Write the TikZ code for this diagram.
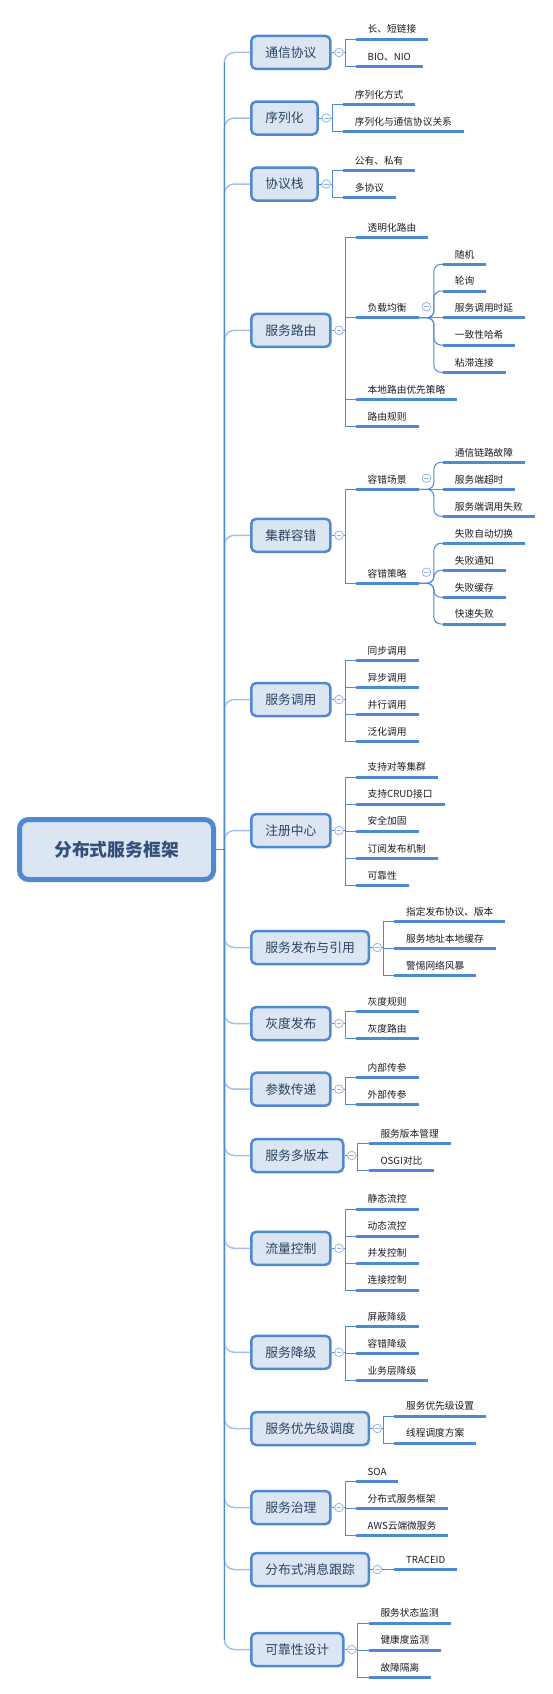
\documentclass[tikz,border=0pt]{standalone}
\usepackage{fontspec}
\setmainfont{Noto Sans CJK SC}
\usepackage{xcolor}
\usepackage{tikz}
\usetikzlibrary{calc}

\definecolor{lineBlue}{RGB}{79,137,210}
\definecolor{stemBlue}{RGB}{163,192,234}
\definecolor{boxFill}{RGB}{220,230,243}
\definecolor{btnBlue}{RGB}{150,182,230}
\definecolor{rootInk}{RGB}{50,80,122}
\definecolor{topicInk}{RGB}{44,66,98}
\definecolor{leafInk}{RGB}{28,28,28}

\tikzset{
  rootbox/.style={draw=lineBlue, line width=5pt, fill=boxFill, rounded corners=9pt,
    inner xsep=34.7pt, minimum height=60pt, text height=13.5pt, text depth=0pt,
    font=\fontsize{17.8}{20}\selectfont\bfseries, text=rootInk},
  topic/.style={anchor=west, draw=lineBlue, line width=2.5pt, fill=boxFill, rounded corners=5pt,
    inner xsep=14pt, minimum height=33pt, text height=9.7pt, text depth=0pt,
    font=\fontsize{12.8}{15}\selectfont, text=topicInk},
  leaf/.style={anchor=south west, outer sep=0pt, inner xsep=12pt, inner ysep=6.3pt,
    text height=7.4pt, text depth=0pt, font=\fontsize{9.7}{12}\selectfont, text=leafInk,
    append after command={(\tikzlastnode.south west) edge[uline] (\tikzlastnode.south east)}},
  uline/.style={draw=lineBlue, line width=3pt},
  link/.style={draw=lineBlue, line width=1pt},
  curvy/.style={link, rounded corners=7pt},
  stem/.style={draw=stemBlue, line width=1.5pt, rounded corners=10pt},
  btn/.style={circle, draw=btnBlue, fill=white, line width=0.8pt, minimum size=8.6pt, inner sep=0pt,
    path picture={\draw[btnBlue, line width=0.8pt]
      ([xshift=-2.4pt]path picture bounding box.center) -- ([xshift=2.4pt]path picture bounding box.center);}}
}

% 二级主题: 编号, 列表 y/文字
\newcommand{\leafrow}[2]{%
  \foreach \y/\txt [count=\k] in {#2} {
    \node[leaf, xshift=10.7pt] (l#1-\k) at (b#1 |- 0,\y) {\txt};
    \draw[link] (b#1) |- (l#1-\k.south west);
  }}
% 三级主题: 父节点, 列表 y/文字/线型
\newcommand{\subrow}[2]{%
  \path (l#1.south east) ++(15.4,0) coordinate (s#1);
  \node[btn] (k#1) at ($(l#1.south east)+(8,-11)$) {};
  \foreach \y/\txt/\st [count=\k] in {#2} {
    \node[leaf, xshift=9pt] (l#1-\k) at (s#1 |- 0,\y) {\txt};
    \draw[\st] (l#1.south east) -| (s#1 |- l#1-\k.south west) -- (l#1-\k.south west);
  }}

\begin{document}
\begin{tikzpicture}[x=1pt, y=-1pt]
  \def \trunkX {224.3};
  \fill[white, use as bounding box] (0,0) rectangle (552,1694);

  %中心主题
  \node[rootbox] (root) at (116.5,849.5) {分布式服务框架};
  \coordinate (hub) at (\trunkX,849.5);

  %一级主题
  \node[topic] (t1) at (250,52.5) {通信协议};
  \node[topic] (t2) at (250,118) {序列化};
  \node[topic] (t3) at (250,184) {协议栈};
  \node[topic] (t4) at (250,330.3) {服务路由};
  \node[topic] (t5) at (250,535.3) {集群容错};
  \node[topic] (t6) at (250,699.5) {服务调用};
  \node[topic] (t7) at (250,830.5) {注册中心};
  \node[topic] (t8) at (250,947.5) {服务发布与引用};
  \node[topic] (t9) at (250,1023.5) {灰度发布};
  \node[topic] (t10) at (250,1089.2) {参数传递};
  \node[topic] (t11) at (250,1155.5) {服务多版本};
  \node[topic] (t12) at (250,1248.3) {流量控制};
  \node[topic] (t13) at (250,1352.3) {服务降级};
  \node[topic] (t14) at (250,1428.5) {服务优先级调度};
  \node[topic] (t15) at (250,1507.5) {服务治理};
  \node[topic] (t16) at (250,1569.5) {分布式消息跟踪};
  \node[topic] (t17) at (250,1649.5) {可靠性设计};

  %主干
  \foreach \i in {1,...,17} \draw[stem] (hub) |- (t\i.west);
  \draw[link, line width=1.3pt] ($(hub |- t1.west)+(0,10)$) -- ($(hub |- t17.west)+(0,-10)$);
  \draw[link] (root.east) -- (hub);

  %分支点与折叠按钮
  \foreach \i in {1,...,17} {
    \draw[link] (t\i.east) -- ++(13.3,0) coordinate (b\i);
    \node[btn] (k\i) at ($(t\i.east)+(7.3,0)$) {};
  }

  %二级主题
  \leafrow{1}{39.3/长、短链接, 66.3/BIO、NIO}
  \leafrow{2}{104.8/序列化方式, 131.8/序列化与通信协议关系}
  \leafrow{3}{170.8/公有、私有, 197.8/多协议}
  \leafrow{4}{237.3/透明化路由, 317.7/负载均衡, 399.3/本地路由优先策略, 426.7/路由规则}
  \leafrow{5}{489.3/容错场景, 583.3/容错策略}
  \leafrow{6}{660.3/同步调用, 687.3/异步调用, 714.3/并行调用, 741.3/泛化调用}
  \leafrow{7}{777/支持对等集群, 804/支持CRUD接口, 831/安全加固, 858.3/订阅发布机制, 885.3/可靠性}
  \leafrow{8}{921.3/指定发布协议、版本, 948.3/服务地址本地缓存, 975.3/警惕网络风暴}
  \leafrow{9}{1011.3/灰度规则, 1038.3/灰度路由}
  \leafrow{10}{1077.3/内部传参, 1104.3/外部传参}
  \leafrow{11}{1143.3/服务版本管理, 1170.3/OSGI对比}
  \leafrow{12}{1209/静态流控, 1236/动态流控, 1263/并发控制, 1290/连接控制}
  \leafrow{13}{1326.7/屏蔽降级, 1353.3/容错降级, 1380.3/业务层降级}
  \leafrow{14}{1416/服务优先级设置, 1443/线程调度方案}
  \leafrow{15}{1481.3/SOA, 1508.3/分布式服务框架, 1535.3/AWS云端微服务}
  \leafrow{16}{1569.5/TRACEID}
  \leafrow{17}{1623/服务状态监测, 1650/健康度监测, 1677.3/故障隔离}

  %三级主题
  \subrow{4-2}{264.3/随机/curvy, 291/轮询/curvy, 317.7/服务调用时延/link, 345/一致性哈希/curvy, 372.3/粘滞连接/curvy}
  \subrow{5-1}{462.3/通信链路故障/curvy, 489.3/服务端超时/link, 516.3/服务端调用失败/curvy}
  \subrow{5-2}{543.3/失败自动切换/curvy, 570.3/失败通知/curvy, 597.3/失败缓存/curvy, 624/快速失败/curvy}
\end{tikzpicture}
\end{document}
